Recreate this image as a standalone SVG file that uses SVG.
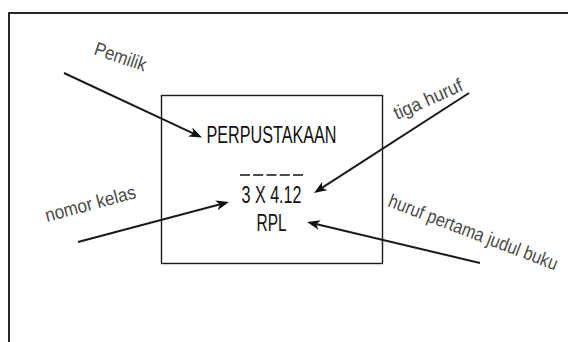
<svg xmlns="http://www.w3.org/2000/svg" width="568" height="342" viewBox="0 0 568 342">
<style>
.frame{fill:none;stroke:#111;stroke-width:1.8}
.box{fill:#fff;stroke:#1a1a1a;stroke-width:1.4}
.main{font-family:"Liberation Sans",Arial,sans-serif;font-size:24px;fill:#111;text-anchor:middle}
.lbl{font-family:"Liberation Sans",Arial,sans-serif;font-size:19px;fill:#4a4a4a}
.conn{fill:none;stroke:#1a1a1a;stroke-width:2;marker-end:url(#ah)}
</style>
<defs>
<marker id="ah" markerUnits="userSpaceOnUse" viewBox="0 0 13 10" markerWidth="13" markerHeight="10" refX="5" refY="5" orient="auto">
<path d="M0,0 L13,5 L0,10 L3.5,5 Z" fill="#111"/>
</marker>
</defs>
<rect class="frame" x="9" y="13" width="600" height="400"/>
<g id="book">
<rect class="box" x="161.5" y="95.5" width="221" height="168"/>
<text class="main" x="271.5" y="142.5" textLength="130" lengthAdjust="spacingAndGlyphs">PERPUSTAKAAN</text>
<line x1="240" y1="175" x2="303" y2="175" stroke="#111" stroke-width="1.5" stroke-dasharray="10 3.25"/>
<text class="main" x="271.5" y="203" textLength="60" lengthAdjust="spacingAndGlyphs">3 X 4.12</text>
<text class="main" x="271.5" y="231" textLength="30" lengthAdjust="spacingAndGlyphs">RPL</text>
</g>
<g id="label-pemilik"><text class="lbl" transform="translate(93,54) rotate(19) scale(0.88,1)">Pemilik</text></g>
<g id="label-nomor"><text class="lbl" transform="translate(47,222) rotate(-15) scale(0.9,1)">nomor kelas</text></g>
<g id="label-tiga"><text class="lbl" transform="translate(397,120) rotate(-24) scale(0.93,1)">tiga huruf</text></g>
<g id="label-huruf"><text class="lbl" transform="translate(387,206) rotate(21) scale(0.856,1)">huruf pertama judul buku</text></g>
<g id="connectors">
<line class="conn" x1="64" y1="73" x2="194.75" y2="134.1"/>
<line class="conn" x1="78" y1="242" x2="221.27" y2="204.05"/>
<line class="conn" x1="469" y1="93" x2="320.72" y2="188.66"/>
<line class="conn" x1="480" y1="263" x2="314.78" y2="223.84"/>
</g>
</svg>
